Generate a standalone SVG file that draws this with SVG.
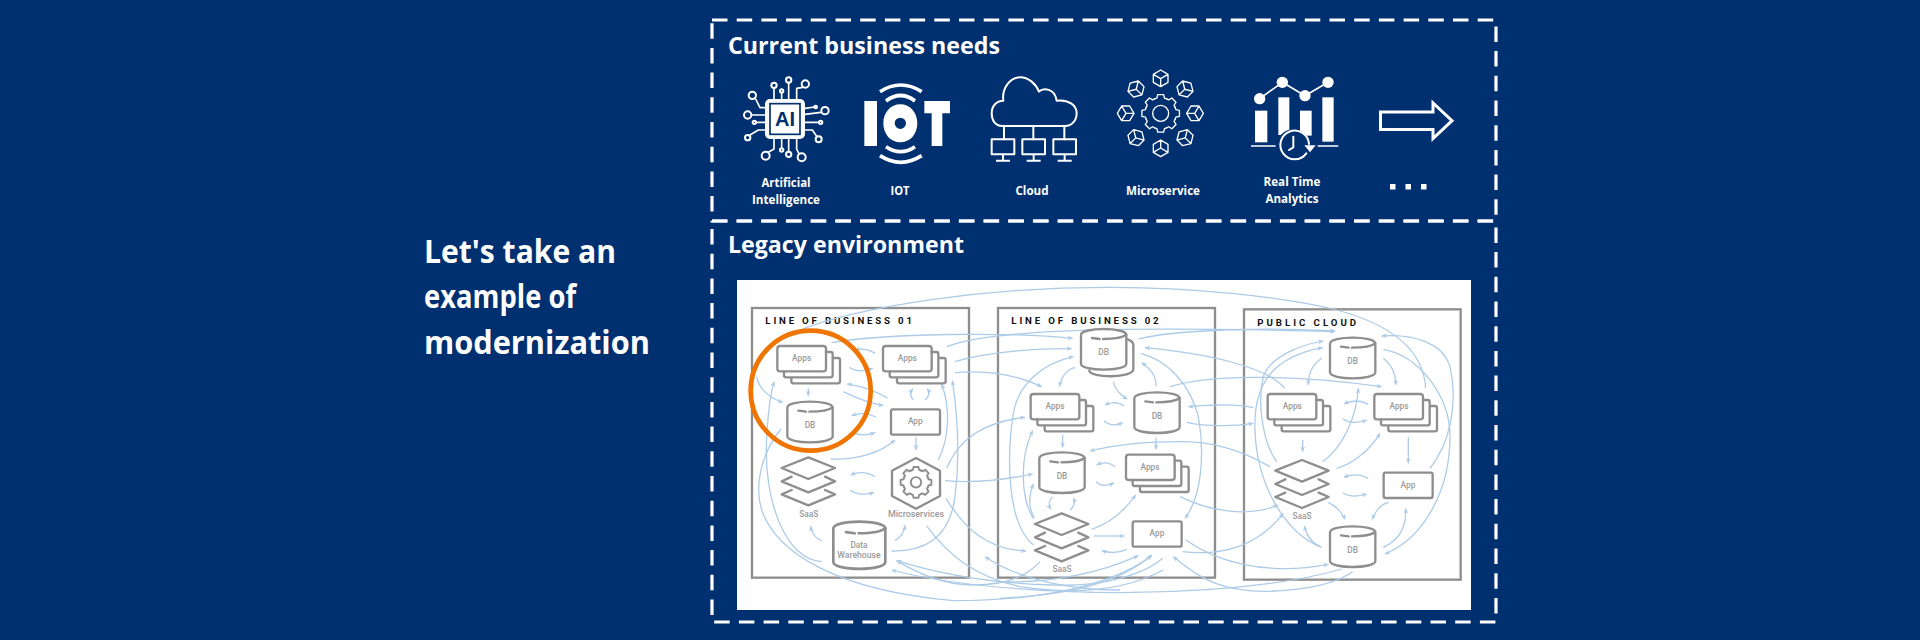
<svg xmlns="http://www.w3.org/2000/svg" xmlns:xlink="http://www.w3.org/1999/xlink" width="1920" height="640" viewBox="0 0 1920 640">
<style>
.h{font-family:"Open Sans",Lato,"Liberation Sans",sans-serif;font-weight:700;fill:#fff}
.l{font-family:"Open Sans",Lato,"Liberation Sans",sans-serif;font-weight:700;fill:#fff;font-size:12.6px;text-anchor:middle}
.frame{fill:none;stroke:#fff;stroke-width:3.2;stroke-dasharray:15.5 9.2}
.w{fill:none;stroke:#fff;stroke-linecap:round;stroke-linejoin:round}
.f{fill:#fff}
.box{fill:none;stroke:#8e8e8e;stroke-width:7}
.n{fill:#fff;stroke:#8e8e8e;stroke-width:7;stroke-linejoin:round}
.o{fill:none;stroke:#8e8e8e;stroke-width:7;stroke-linejoin:round;stroke-linecap:round}
.t{font-family:Roboto,"Liberation Sans",sans-serif;font-size:25px;font-weight:500;fill:#9a9a9a;text-anchor:middle}
.b{font-family:Roboto,"Liberation Sans",sans-serif;font-size:29px;font-weight:700;fill:#111}
.c path{fill:none;stroke:#accbe8;stroke-width:3.8;marker-end:url(#a)}
.c path.p{marker-end:none}
</style>
<defs>
<marker id="a" markerUnits="userSpaceOnUse" markerWidth="20" markerHeight="20" viewBox="0 0 20 20" refX="17" refY="10" orient="auto"><path d="M2,3 L18,10 L2,17 L6,10 Z" fill="#accbe8"/></marker>
<g id="apps"><rect class="n" x="0" y="0" width="146" height="76" rx="8"/><path class="o" d="M146,18H160Q166,18 166,24V88Q166,94 160,94H26Q20,94 20,88V76M166,36H182Q188,36 188,42V106Q188,112 182,112H48Q42,112 42,106V94"/></g>
<g id="db"><path class="n" d="M0,18V104C0,128 136,128 136,104V18C136,-6 0,-6 0,18Z"/><path class="o" d="M33,27L56,30M66,30C95,30 125,26 136,17"/></g>
<rect id="app" class="n" width="147" height="76" rx="6"/>
<g id="saas"><path class="o" d="M-50,58L-80,72L0,105L80,72L50,58M-50,98L-80,111L0,144L80,111L50,98"/><path class="n" d="M-80,32L0,0L80,32L0,65Z"/></g>
<g id="seg"><path d="M-18,-43.4L-11.4,-45.6L-8.9,-56.3H8.9L11.4,-45.6L18,-43.4"/></g>
<g id="gear" fill="none"><use href="#seg"/><use href="#seg" transform="rotate(45)"/><use href="#seg" transform="rotate(90)"/><use href="#seg" transform="rotate(135)"/><use href="#seg" transform="rotate(180)"/><use href="#seg" transform="rotate(225)"/><use href="#seg" transform="rotate(270)"/><use href="#seg" transform="rotate(315)"/></g>
<g id="cube" fill="none"><path d="M0,-25L22,-12V12L0,25L-22,12V-12ZM-22,-12L0,1L22,-12M0,1V25"/></g>
<g id="mon"><rect x="0" y="0" width="68" height="45"/><path d="M34,45V64M13,64H55"/></g>
</defs>

<rect width="1920" height="640" fill="#00306f"/>

<g id="title"><text class="h" x="424" y="263" font-size="32" textLength="192" lengthAdjust="spacingAndGlyphs">Let's take an</text><text class="h" x="424" y="308" font-size="32" textLength="152" lengthAdjust="spacingAndGlyphs">example of</text><text class="h" x="424" y="354" font-size="32" textLength="226" lengthAdjust="spacingAndGlyphs">modernization</text></g>

<rect id="frame-needs" class="frame" x="712" y="20" width="784" height="201"/>
<rect id="frame-legacy" class="frame" x="712" y="221" width="784" height="401"/>
<text class="h" x="728" y="54" font-size="24" textLength="272" lengthAdjust="spacingAndGlyphs">Current business needs</text>
<text class="h" x="728" y="253" font-size="24" textLength="236" lengthAdjust="spacingAndGlyphs">Legacy environment</text>

<g id="need-ai"><g transform="translate(725 25) scale(.33333)">
<path class="w" stroke-width="5" d="M147,189V222M191,173V222M170,203V222M233,187L215,190V222M92,222L105,248H120M80,270H120M93,292H120M75,330L100,315H120M268,246L240,250M288,262L240,268M282,292H240M276,335L262,315H240M130,382L147,372V342M170,370V342M191,380V342M222,387L215,372V342"/>
<g class="w" stroke-width="6"><circle cx="147" cy="181" r="8"/><circle cx="191" cy="165" r="8"/><circle cx="170" cy="198" r="5"/><circle cx="241" cy="177" r="11"/><circle cx="82" cy="211" r="11"/><circle cx="68" cy="270" r="11"/><circle cx="88" cy="292" r="5"/><circle cx="68" cy="338" r="8"/><circle cx="272" cy="246" r="4"/><circle cx="300" cy="257" r="11"/><circle cx="287" cy="292" r="5"/><circle cx="281" cy="343" r="9"/><circle cx="122" cy="392" r="12"/><circle cx="170" cy="375" r="5"/><circle cx="191" cy="388" r="8"/><circle cx="230" cy="397" r="12"/></g>
<rect class="f" x="120" y="222" width="120" height="120" rx="15"/><rect x="135" y="236" width="90" height="92" fill="#fff" stroke="#00306f" stroke-width="5"/>
<text x="180" y="303" text-anchor="middle" font-family="'Liberation Sans',sans-serif" font-weight="700" font-size="60" fill="#00306f">AI</text></g>
<text class="l" x="786" y="187" textLength="49" lengthAdjust="spacingAndGlyphs">Artificial</text><text class="l" x="786" y="204" textLength="68" lengthAdjust="spacingAndGlyphs">Intelligence</text></g>

<g id="need-iot"><g transform="translate(725 25) scale(.33333)">
<rect class="f" x="418" y="228" width="38" height="135"/><path class="f" d="M598,228H675V265H652V363H620V265H598Z"/>
<path class="f" fill-rule="evenodd" d="M526,238C555,238 577,262 577,295C577,328 555,352 526,352C497,352 475,328 475,295C475,262 497,238 526,238ZM526,278A17,17 0 1 0 526,312A17,17 0 1 0 526,278Z"/>
<path fill="none" stroke="#fff" stroke-width="11" d="M465,200Q527,160 590,200M483,228Q527,195 570,228M483,365Q527,395 570,365M465,392Q527,432 590,392"/></g>
<text class="l" x="900" y="195" textLength="19" lengthAdjust="spacingAndGlyphs">IOT</text></g>

<g id="need-cloud"><g transform="translate(985 60) scale(.33333)">
<path class="w" stroke-width="6" d="M52,198C30,198 20,180 20,160C20,138 35,122 55,122C50,85 75,52 105,52C130,52 152,70 162,95C175,82 210,85 215,122C250,118 275,135 275,160C275,182 260,198 240,198ZM57,198V238M145,198V238M238,198V238"/>
<g class="w" stroke-width="6" style="stroke-linecap:butt"><use href="#mon" x="20" y="238"/><use href="#mon" x="112" y="238"/><use href="#mon" x="205" y="238"/></g></g>
<text class="l" x="1032" y="195" textLength="33" lengthAdjust="spacingAndGlyphs">Cloud</text></g>

<g id="need-micro"><g transform="translate(985 60) scale(.33333)">
<g class="w" stroke-width="4"><circle cx="527" cy="160" r="24"/><use href="#gear" x="527" y="160"/>
<use href="#cube" transform="translate(527 55)"/><use href="#cube" transform="translate(600 87) rotate(45)"/><use href="#cube" transform="translate(630 160) rotate(90)"/><use href="#cube" transform="translate(600 233) rotate(-45)"/><use href="#cube" transform="translate(527 265) rotate(180)"/><use href="#cube" transform="translate(453 233) rotate(45)"/><use href="#cube" transform="translate(422 160) rotate(-90)"/><use href="#cube" transform="translate(453 87) rotate(-45)"/></g></g>
<text class="l" x="1163" y="195" textLength="74" lengthAdjust="spacingAndGlyphs">Microservice</text></g>

<g id="need-rt"><g transform="translate(1225 60) scale(.33333)">
<rect class="f" x="90" y="152" width="37" height="95"/><rect class="f" x="160" y="112" width="33" height="113"/><rect class="f" x="225" y="152" width="35" height="75"/><rect class="f" x="292" y="112" width="34" height="133"/>
<path class="w" stroke-width="5" d="M104,116L172,67L240,107L309,67M80,258H150M280,258H338"/>
<g class="f"><circle cx="104" cy="116" r="17"/><circle cx="172" cy="67" r="17"/><circle cx="240" cy="107" r="17"/><circle cx="309" cy="67" r="17"/></g>
<circle cx="205" cy="258" r="50" fill="#00306f"/>
<path class="w" stroke-width="6" d="M252,252A43,43 0 1 0 244,280M205,230V262L192,270"/><path class="f" d="M238,256H272L255,277Z"/></g>
<text class="l" x="1292" y="186" textLength="57" lengthAdjust="spacingAndGlyphs">Real Time</text><text class="l" x="1292" y="203" textLength="53" lengthAdjust="spacingAndGlyphs">Analytics</text></g>

<g id="need-more"><polygon points="1380.5,112 1433,112 1433,103 1452,120.7 1433,138.5 1433,129.5 1380.5,129.5" fill="none" stroke="#fff" stroke-width="3"/>
<rect class="f" x="1390" y="184" width="5.5" height="5.5"/><rect class="f" x="1405.5" y="184" width="5.5" height="5.5"/><rect class="f" x="1421" y="184" width="5.5" height="5.5"/></g>

<rect id="legacy-panel" x="737" y="280" width="734" height="330" fill="#fff"/>

<g transform="translate(720 270) scale(.33333)">
<g id="lob1"><rect class="box" x="96" y="114" width="651" height="809"/><text class="b" x="136" y="162" textLength="440">LINE OF BUSINESS 01</text></g>
<g id="lob2"><rect class="box" x="834" y="114" width="651" height="809"/><text class="b" x="874" y="162" textLength="442">LINE OF BUSINESS 02</text></g>
<g id="cloud"><rect class="box" x="1572" y="118" width="650" height="811"/><text class="b" x="1612" y="167" textLength="296">PUBLIC CLOUD</text></g>

<g id="connectors" class="c">
<path class="p" d="M240,180C420,110 800,50 1180,52C1400,52 1700,80 1850,120C2000,160 2110,230 2117,355"/>
<path d="M335,218C500,190 850,185 1058,205"/>
<path d="M705,275C800,245 950,235 1055,236"/>
<path d="M705,308C790,300 880,310 965,350"/>
<path d="M680,230C800,185 1100,165 1845,185"/>
<path d="M1255,207C1360,180 1640,170 1845,183"/>
<path d="M465,250C445,238 425,235 405,240"/>
<path d="M388,292C405,305 430,305 458,295"/>
<path d="M265,355V378"/>
<path d="M503,385C470,365 430,350 382,342"/>
<path d="M370,365C410,385 450,400 490,407"/>
<path d="M467,442C445,428 420,428 395,437"/>
<path d="M405,490C425,498 445,495 465,488"/>
<path d="M332,567C410,570 480,550 525,510"/>
<path d="M110,320C115,355 150,385 188,397"/>
<path d="M305,875C200,870 130,700 140,500C145,420 150,370 163,335"/>
<path d="M183,477C130,540 100,640 125,720C170,850 350,960 700,992C950,992 1170,950 1295,857"/>
<path d="M1865,897C1650,960 1300,975 1050,965C850,957 650,935 515,900"/>
<path d="M1328,865C1270,915 1150,950 1000,945C800,940 650,910 530,872"/>
<path d="M960,875C920,920 850,945 760,945C680,945 600,915 530,872"/>
<path class="p" d="M620,768C680,850 760,920 900,950C1000,965 1180,980 1330,900"/>
<path d="M1200,960C1050,960 900,930 795,860"/>
<path d="M675,632C760,640 850,630 938,612"/>
<path d="M680,595C720,500 800,455 915,442"/>
<path d="M678,685C730,770 800,840 918,843"/>
<path d="M588,502V540"/>
<path d="M580,390C568,378 570,368 578,356"/>
<path d="M615,390C630,378 630,368 622,356"/>
<path d="M655,570C690,500 690,410 665,342"/>
<path d="M515,843C620,845 690,800 705,680C720,560 715,450 697,332"/>
<path d="M305,812C285,805 275,790 272,768"/>
<path d="M525,812C545,800 553,785 555,766"/>
<path d="M465,620C440,605 415,605 392,615"/>
<path d="M390,660C410,675 440,675 462,667"/>
<path d="M1065,293C1040,298 1025,320 1018,350"/>
<path d="M1180,335C1185,360 1200,375 1222,387"/>
<path d="M1308,348C1310,320 1290,295 1265,278"/>
<path d="M940,825C860,760 860,560 880,430C895,340 970,280 1060,260"/>
<path d="M940,745C900,680 900,560 938,482"/>
<path d="M943,745C925,710 925,680 940,642"/>
<path d="M1212,408C1195,395 1175,395 1155,405"/>
<path d="M1152,452C1170,468 1190,467 1208,458"/>
<path d="M1028,495V532"/>
<path d="M1308,503V538"/>
<path d="M1185,590C1170,578 1150,575 1130,585"/>
<path d="M1128,635C1145,650 1165,648 1182,638"/>
<path d="M998,682C985,692 985,705 992,718"/>
<path d="M1050,720C1065,708 1065,695 1060,684"/>
<path d="M1115,778C1170,760 1215,720 1247,675"/>
<path d="M1122,798H1213"/>
<path d="M1220,838C1195,850 1170,850 1145,842"/>
<path d="M1262,250C1340,270 1410,340 1435,440C1455,550 1445,680 1395,745"/>
<g transform="translate(840 0)">
<path d="M855,355C800,290 620,250 435,233"/>
<path d="M510,350C620,315 850,310 1145,350"/>
<path d="M760,413C700,400 640,405 565,410"/>
<path d="M560,457C620,470 700,470 760,460"/>
<path d="M810,590C740,550 650,515 550,515C430,515 340,525 270,543"/>
<path d="M540,680C620,720 740,745 835,705"/>
<path d="M548,845C680,860 780,820 850,730"/>
<path d="M558,810C640,870 790,920 985,883"/>
<path d="M1058,905C980,960 800,975 700,955C620,940 570,900 520,860"/>
<path d="M0,935C150,940 300,910 415,857"/>
<path d="M0,985C200,975 360,940 455,855"/>
<path d="M965,265C935,285 925,310 925,345"/>
<path d="M1150,265C1175,285 1188,310 1187,345"/>
<path d="M1105,403C1080,390 1055,390 1032,402"/>
<path d="M1028,447C1050,460 1075,460 1100,450"/>
<path d="M908,510V545"/>
<path d="M1225,500V580"/>
<path d="M1105,625C1080,612 1055,612 1032,622"/>
<path d="M1028,668C1050,682 1075,680 1100,672"/>
<path d="M1010,595C1060,580 1110,540 1140,490"/>
<path d="M968,575C1030,530 1070,440 1075,355"/>
<path d="M830,575C790,520 770,400 790,320C810,260 900,225 970,213"/>
<path d="M960,830C860,790 770,650 765,480C760,340 820,260 968,233"/>
<path d="M1165,697C1140,705 1125,725 1117,748"/>
<path d="M1150,832C1200,810 1220,770 1217,715"/>
<path d="M985,697C1010,710 1025,725 1035,748"/>
<path d="M965,832C935,820 920,800 913,768"/>
<path d="M1290,595C1350,520 1375,400 1350,290C1330,220 1240,190 1145,198"/>
<path d="M1150,238C1250,255 1350,370 1350,500C1350,650 1280,800 1155,852"/>
</g>
</g>

<g id="l1-apps"><use href="#apps" x="172" y="228"/><text class="t" x="245" y="274">Apps</text></g>
<g id="l1-db"><use href="#db" x="202" y="395"/><text class="t" x="270" y="475">DB</text></g>
<g id="l1-apps2"><use href="#apps" x="489" y="228"/><text class="t" x="562" y="274">Apps</text></g>
<g id="l1-app"><use href="#app" x="513" y="418"/><text class="t" x="586" y="463">App</text></g>
<g id="l1-saas"><use href="#saas" x="265" y="562"/><text class="t" x="266" y="740">SaaS</text></g>
<g id="l1-micro"><path class="n" d="M588,564L660,602V678L588,716L516,678V602Z"/><g class="o" transform="translate(588 637) scale(.82)"><use href="#gear"/><circle r="19"/></g><text class="t" x="588" y="740" textLength="168" lengthAdjust="spacingAndGlyphs">Microservices</text></g>
<g id="l1-dw"><g transform="translate(340 755) scale(1.147 1.16)"><use href="#db"/></g><text class="t" x="417" y="835">Data</text><text class="t" x="417" y="864" textLength="130" lengthAdjust="spacingAndGlyphs">Warehouse</text></g>

<g id="l2-db1"><path class="o" d="M1218,207Q1240,212 1240,225V298C1240,325 1110,325 1108,302"/><use href="#db" x="1083" y="177"/><text class="t" x="1151" y="256">DB</text></g>
<g id="l2-apps1"><use href="#apps" x="932" y="372"/><text class="t" x="1005" y="418">Apps</text></g>
<g id="l2-db2"><use href="#db" x="1243" y="367"/><text class="t" x="1311" y="447">DB</text></g>
<g id="l2-db3"><use href="#db" x="958" y="547"/><text class="t" x="1026" y="628">DB</text></g>
<g id="l2-apps2"><use href="#apps" x="1218" y="554"/><text class="t" x="1290" y="599">Apps</text></g>
<g id="l2-saas"><use href="#saas" x="1025" y="730"/><text class="t" x="1026" y="905">SaaS</text></g>
<g id="l2-app"><use href="#app" x="1238" y="754"/><text class="t" x="1311" y="799">App</text></g>

<g id="c-db1"><use href="#db" x="1830" y="203"/><text class="t" x="1898" y="283">DB</text></g>
<g id="c-apps1"><use href="#apps" x="1643" y="372"/><text class="t" x="1717" y="417">Apps</text></g>
<g id="c-apps2"><use href="#apps" x="1963" y="372"/><text class="t" x="2037" y="417">Apps</text></g>
<g id="c-saas"><use href="#saas" x="1746" y="570"/><text class="t" x="1746" y="746">SaaS</text></g>
<g id="c-app"><use href="#app" x="1991" y="608"/><text class="t" x="2064" y="654">App</text></g>
<g id="c-db2"><use href="#db" x="1830" y="769"/><text class="t" x="1898" y="849">DB</text></g>

<circle id="highlight" cx="272" cy="362" r="180" fill="none" stroke="#f07400" stroke-width="14"/>
</g>
</svg>
